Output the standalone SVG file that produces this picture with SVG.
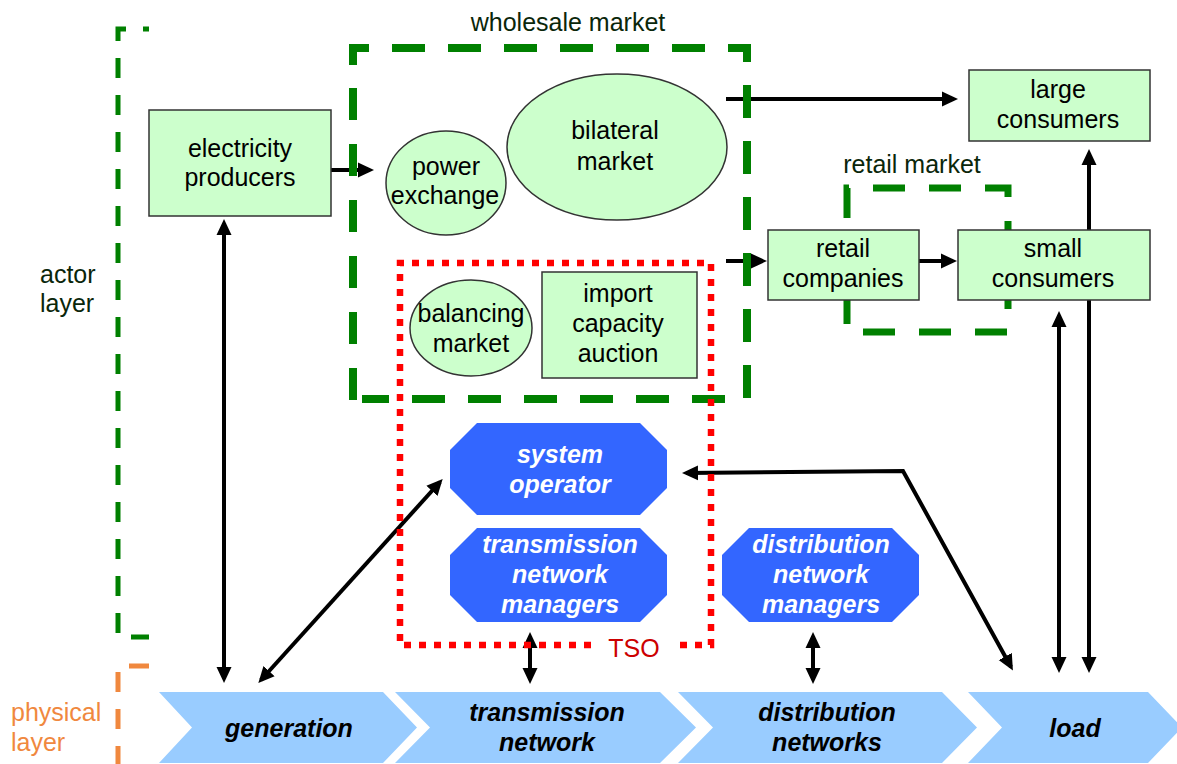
<svg xmlns="http://www.w3.org/2000/svg" width="1177" height="764" viewBox="0 0 1177 764">
<defs>
<style>
text{font-family:"Liberation Sans",Arial,sans-serif;font-size:25px;}
.t{fill:#000;text-anchor:middle;}
.lbl{fill:#0a260a;}
.node{fill:#CCFFCC;stroke:#333;stroke-width:1.5;}
.oct{fill:#3366FF;stroke:none;}
.wt{fill:#fff;font-weight:bold;font-style:italic;text-anchor:middle;}
.chev{fill:#99CCFF;stroke:none;}
.bt{fill:#000;font-weight:bold;font-style:italic;text-anchor:middle;}
.conn{fill:none;stroke:#000;stroke-width:4;}
.green{fill:none;stroke:#008000;}
</style>
<marker id="ah" markerUnits="userSpaceOnUse" markerWidth="16" markerHeight="16" viewBox="0 0 16 16" refX="12" refY="8" orient="auto-start-reverse">
<path d="M0,0.5 L16,8 L0,15.5 Z" fill="#000"/>
</marker>
</defs>
<rect width="1177" height="764" fill="#fff"/>

<g id="layer-brackets">
<path d="M149,29 H118 V637 H149" class="green" stroke-width="5" stroke-dasharray="20 17" stroke-dashoffset="14"/>
<path d="M149,666 H118 V764" fill="none" stroke="#F0883E" stroke-width="5" stroke-dasharray="20 17"/>
<text class="lbl" x="40" y="283">actor</text>
<text class="lbl" x="40" y="312">layer</text>
<text x="11" y="721" fill="#F0883E">physical</text>
<text x="11" y="751" fill="#F0883E">layer</text>
</g>

<g id="retail-market">
<path d="M847,218 V188 H1008 V332 H847 Z" class="green" stroke-width="7" stroke-dasharray="32 24"/>
<text class="lbl" x="912" y="173" text-anchor="middle">retail market</text>
</g>

<g id="physical">
<g id="generation"><path class="chev" d="M159,692 H383 L417,727.5 L383,763 H159 L192,727.5 Z"/><text class="bt" x="289" y="737">generation</text></g>
<g id="transmission-network"><path class="chev" d="M395,692 H660 L696,727.5 L660,763 H395 L430,727.5 Z"/><text class="bt" x="547" y="721">transmission</text><text class="bt" x="547" y="751">network</text></g>
<g id="distribution-networks"><path class="chev" d="M678,692 H942 L977,727.5 L942,763 H678 L713,727.5 Z"/><text class="bt" x="827" y="721">distribution</text><text class="bt" x="827" y="751">networks</text></g>
<g id="load"><path class="chev" d="M968,692 H1148 L1182,727.5 L1148,763 H968 L1002,727.5 Z"/><text class="bt" x="1075" y="737">load</text></g>
</g>

<g id="connectors">
<path class="conn" d="M331,170 H370" marker-end="url(#ah)"/>
<path class="conn" d="M726,99 H954" marker-end="url(#ah)"/>
<path class="conn" d="M726,261 H763" marker-end="url(#ah)"/>
<path class="conn" d="M919,261 H953" marker-end="url(#ah)"/>
<path class="conn" d="M224,223 V679" marker-start="url(#ah)" marker-end="url(#ah)"/>
<path class="conn" d="M261,680 L440,482" marker-start="url(#ah)" marker-end="url(#ah)"/>
<path class="conn" d="M530,636 V680" marker-start="url(#ah)" marker-end="url(#ah)"/>
<path class="conn" d="M813,636 V680" marker-start="url(#ah)" marker-end="url(#ah)"/>
<path class="conn" d="M686,473 L903,471 L1011,667" marker-start="url(#ah)" marker-end="url(#ah)"/>
<path class="conn" d="M1059,315 V669" marker-start="url(#ah)" marker-end="url(#ah)"/>
<path class="conn" d="M1089,153 V669" marker-start="url(#ah)" marker-end="url(#ah)"/>
</g>

<g id="wholesale-market">
<path d="M353,65 V48 H747 V399 H362" class="green" stroke-width="8" stroke-dasharray="33 23"/>
<path d="M353,88 V403" class="green" stroke-width="8" stroke-dasharray="32 24"/>
<text class="lbl" x="568" y="31" text-anchor="middle">wholesale market</text>
</g>

<g id="tso">
<path d="M591,645 H400 V263 H711 V645 H680" fill="none" stroke="#FF0000" stroke-width="6.5" stroke-dasharray="7 8"/>
<text x="634" y="657" fill="#CC0000" text-anchor="middle">TSO</text>
</g>

<g id="electricity-producers"><rect class="node" x="149" y="110" width="182" height="106"/><text class="t" x="240" y="157">electricity</text><text class="t" x="240" y="186">producers</text></g>
<g id="power-exchange"><ellipse class="node" cx="446" cy="183" rx="60" ry="52"/><text class="t" x="446" y="175">power</text><text class="t" x="445" y="204">exchange</text></g>
<g id="bilateral-market"><ellipse class="node" cx="617" cy="147" rx="110" ry="73"/><text class="t" x="615" y="139">bilateral</text><text class="t" x="615" y="170">market</text></g>
<g id="balancing-market"><ellipse class="node" cx="471" cy="328" rx="61" ry="48"/><text class="t" x="471" y="322">balancing</text><text class="t" x="471" y="352">market</text></g>
<g id="import-capacity-auction"><rect class="node" x="542" y="272" width="155" height="106"/><text class="t" x="618" y="302">import</text><text class="t" x="618" y="332">capacity</text><text class="t" x="618" y="362">auction</text></g>
<g id="large-consumers"><rect class="node" x="969" y="70" width="181" height="71"/><text class="t" x="1058" y="98">large</text><text class="t" x="1058" y="128">consumers</text></g>
<g id="retail-companies"><rect class="node" x="768" y="230" width="151" height="70"/><text class="t" x="843" y="257">retail</text><text class="t" x="843" y="287">companies</text></g>
<g id="small-consumers"><rect class="node" x="958" y="230" width="192" height="70"/><text class="t" x="1053" y="257">small</text><text class="t" x="1053" y="287">consumers</text></g>
<g id="system-operator"><path class="oct" d="M477,423 H640 L667,450 V488 L640,515 H477 L450,488 V450 Z"/><text class="wt" x="560" y="463">system</text><text class="wt" x="560" y="493">operator</text></g>
<g id="transmission-network-managers"><path class="oct" d="M477,528 H640 L667,555 V595 L640,622 H477 L450,595 V555 Z"/><text class="wt" x="560" y="553">transmission</text><text class="wt" x="560" y="583">network</text><text class="wt" x="560" y="613">managers</text></g>
<g id="distribution-network-managers"><path class="oct" d="M749,528 H892 L919,555 V595 L892,622 H749 L722,595 V555 Z"/><text class="wt" x="821" y="553">distribution</text><text class="wt" x="821" y="583">network</text><text class="wt" x="821" y="613">managers</text></g>
</svg>
